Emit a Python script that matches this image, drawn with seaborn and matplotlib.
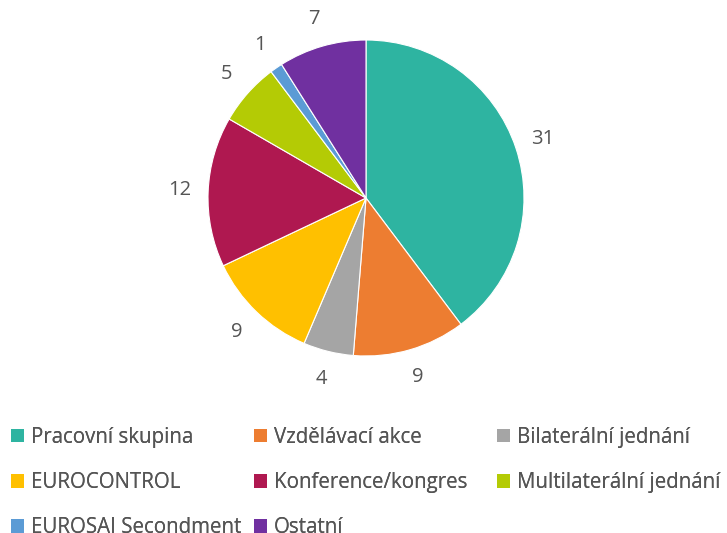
import matplotlib
matplotlib.use("Agg")
import matplotlib.pyplot as plt
from matplotlib.patches import Patch
import seaborn as sns

categories = ["Pracovní skupina", "Vzdělávací akce", "Bilaterální jednání",
              "EUROCONTROL", "Konference/kongres", "Multilaterální jednání",
              "EUROSAI Secondment", "Ostatní"]
values = [31, 9, 4, 9, 12, 5, 1, 7]
colors = ["#2EB4A1", "#ED7D31", "#A5A5A5", "#FFC000", "#AF1850",
          "#B4CB05", "#5B9BD5", "#7030A0"]

sns.set_theme(style="white")
plt.rcParams["font.family"] = ["Open Sans", "DejaVu Sans"]
text_color = "#555555"
fs = 14.5
leg_fs = 14.8

W, H = 727, 533
fig = plt.figure(figsize=(W / 100, H / 100), dpi=100)
cx, cy, r = 366, 198, 158
ax = fig.add_axes([(cx - r) / W, (H - cy - r) / H, 2 * r / W, 2 * r / H])

wedges, texts = ax.pie(values, colors=colors, startangle=90, counterclock=False,
                       labels=[str(v) for v in values], labeldistance=1.18,
                       wedgeprops=dict(edgecolor="white", linewidth=0.8),
                       textprops=dict(color=text_color, fontsize=fs))
for t in texts:
    t.set_horizontalalignment("center")
    t.set_verticalalignment("center")
ax.set_xlim(-1, 1)
ax.set_ylim(-1, 1)
ax.set_aspect("equal")
ax.axis("off")

# legend laid out in three fixed-width columns, filled row by row
col_x = [11, 254, 497]
top_y = 427
for c in range(3):
    idx = list(range(c, len(categories), 3))
    leg = fig.legend([Patch(facecolor=colors[i], edgecolor="none") for i in idx],
                     [categories[i] for i in idx],
                     loc="upper left", bbox_to_anchor=(col_x[c] / W, 1 - top_y / H),
                     ncol=1, frameon=False, fontsize=leg_fs, handlelength=0.63,
                     handleheight=0.63, handletextpad=0.33, labelspacing=1.17,
                     borderpad=0, borderaxespad=0)
    for t in leg.get_texts():
        t.set_color(text_color)
    fig.add_artist(leg)

fig.savefig("out.png", dpi=100, facecolor="white")
